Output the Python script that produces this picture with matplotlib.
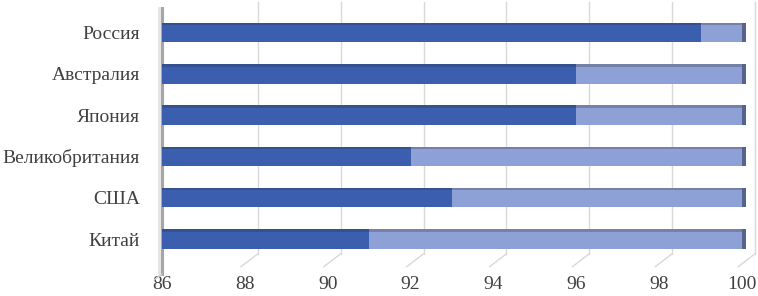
import matplotlib
matplotlib.use('Agg')
import matplotlib.pyplot as plt
from matplotlib.transforms import ScaledTranslation

plt.rcParams['font.family'] = ['Liberation Serif', 'DejaVu Serif']

# data
countries = ['Китай', 'США', 'Великобритания', 'Япония', 'Австралия', 'Россия']
main_share = [91, 93, 92, 96, 96, 99]
other_share = [9, 7, 8, 4, 4, 1]
xticks = [86, 88, 90, 92, 94, 96, 98, 100]

dark = '#3B5EAE'
dark_top = '#34528F'
light = '#8EA1D7'
light_top = '#7482AA'
cap = '#56648C'
grid = '#D9D9D9'
txt = '#404040'

fig = plt.figure(figsize=(7.58, 2.96), dpi=100)
ax = fig.add_axes([0.2137, 0.1088, 0.7652, 0.865])
ax.set_xlim(86, 100)
ax.set_ylim(-0.6, 5.6)

y = list(range(len(countries)))
h = 0.47
ax.barh(y, [m - 86 for m in main_share], left=86, height=h, color=dark, zorder=3)
ax.barh(y, other_share, left=main_share, height=h, color=light, zorder=3)
# shaded top edge for the 3d look
top_y = [v + h / 2 - 0.03 for v in y]
ax.barh(top_y, [m - 86 for m in main_share], left=86, height=0.06, color=dark_top, zorder=4)
ax.barh(top_y, other_share, left=main_share, height=0.06, color=light_top, zorder=4)
# end caps
totals = [m + o for m, o in zip(main_share, other_share)]
ax.barh(y, [0.1] * len(y), left=totals, height=h, color=cap, zorder=3, clip_on=False)

# back wall grid lines shifted like a 3d chart
shift = ScaledTranslation(13 / 100, 10 / 100, fig.dpi_scale_trans)
base = ScaledTranslation(-4 / 100, -3 / 100, fig.dpi_scale_trans)
for t in xticks:
    if t == 86:
        continue
    ax.plot([t, t], [0, 0.985], transform=ax.get_xaxis_transform() + shift,
            color=grid, lw=1, zorder=1, clip_on=False)
    ax.annotate('', xy=(t, 0), xycoords=ax.get_xaxis_transform() + base,
                xytext=(17, 13), textcoords='offset pixels', annotation_clip=False,
                arrowprops=dict(arrowstyle='-', color=grid, lw=1, shrinkA=0, shrinkB=0))

# left wall
ax.plot([86, 86], [-0.04, 1.0], transform=ax.get_xaxis_transform(),
        color='#A6A6A6', lw=2.2, zorder=2, clip_on=False)
ax.plot([86, 86], [-0.04, 1.0], transform=ax.get_xaxis_transform()
        + ScaledTranslation(-2.5 / 100, 0, fig.dpi_scale_trans),
        color='#E3E3E3', lw=2, zorder=2, clip_on=False)
ax.annotate('', xy=(86, -0.04), xycoords=ax.get_xaxis_transform(),
            xytext=(-8, -6), textcoords='offset pixels', annotation_clip=False,
            arrowprops=dict(arrowstyle='-', color='#D0D0D0', lw=1, shrinkA=0, shrinkB=0))

for s in ax.spines.values():
    s.set_visible(False)
ax.set_xticks(xticks)
ax.set_yticks(y)
ax.set_yticklabels(countries)
ax.tick_params(axis='both', length=0, labelsize=14, labelcolor=txt)
ax.tick_params(axis='y', pad=16)
ax.tick_params(axis='x', pad=8.5)

fig.savefig('out.png', dpi=100)
